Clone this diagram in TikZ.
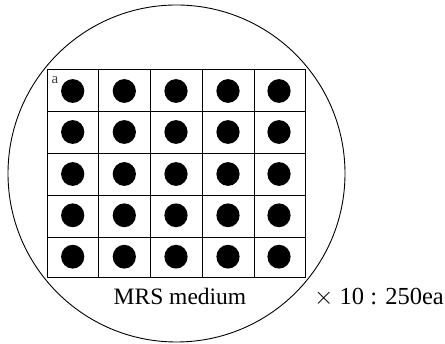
\documentclass[tikz,border=0pt]{standalone}
\usepackage{fontspec}
\setmainfont{Liberation Serif}
\begin{document}
\begin{tikzpicture}[x=1pt,y=-1pt,
  dish/.style={draw=black,line width=0.9pt},
  gridline/.style={draw=black,line width=1pt},
  colony/.style={fill=black},
  lbl/.style={inner sep=0pt,font=\fontsize{23.5}{28}\selectfont}]
\useasboundingbox (0,0) rectangle (445,344);
\draw[dish] (176.5,173.5) circle (168.5);
\draw[gridline] (47,70) rectangle (305,278);
\foreach \x in {98.7,150.7,202.7,254} \draw[gridline] (\x,70) -- (\x,278);
\foreach \y in {112,153.7,195.7,237.3} \draw[gridline] (47,\y) -- (305,\y);
\foreach \x in {72.7,124.3,176,228,279}
  \foreach \y in {91,132,174,215.3,256.7}
    \fill[colony] (\x,\y) ellipse (11.6 and 11.9);
\node[inner sep=0pt,anchor=base,font=\fontsize{15}{18}\selectfont,text=black!75] (a) at (55,84) {a};
\node[lbl,anchor=base] (mrs) at (180,305) {MRS medium};
\node[lbl,anchor=base west,font=\fontsize{24.5}{28}\selectfont] (count) at (314,305) {$\times$ 10 : 250ea};
\end{tikzpicture}
\end{document}
